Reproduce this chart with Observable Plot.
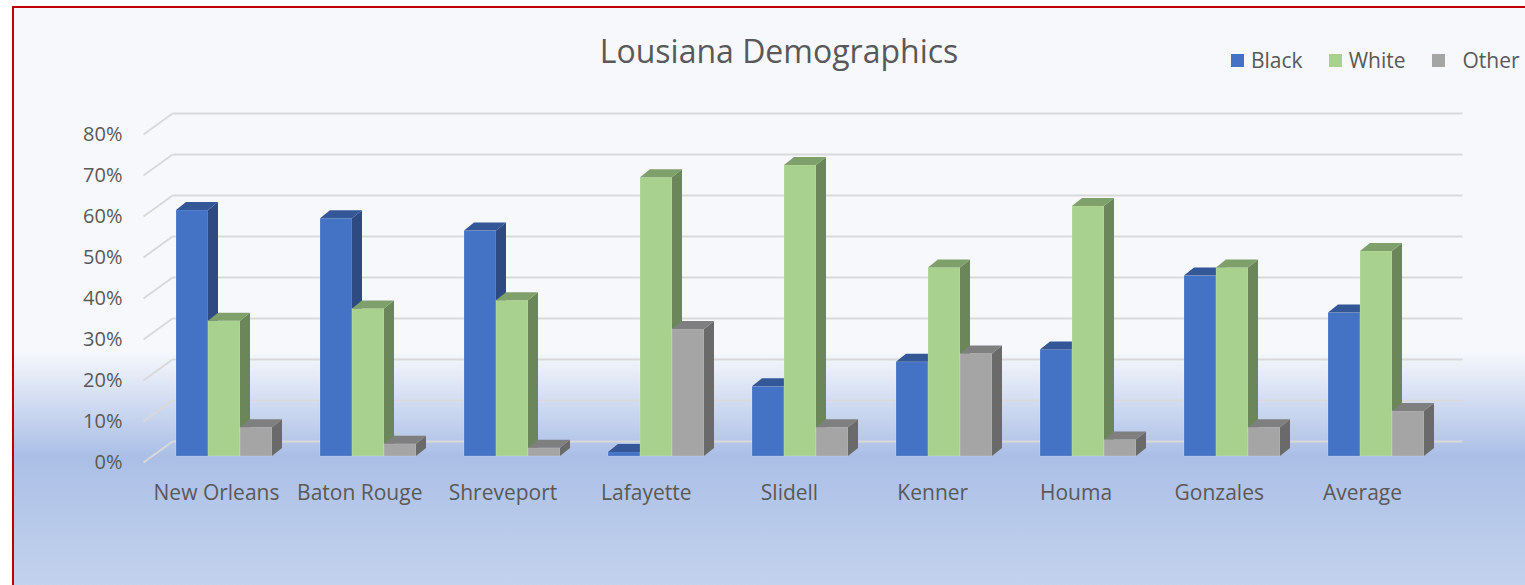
<!DOCTYPE html>
<html>
<head>
<meta charset="utf-8">
<script src="https://cdn.jsdelivr.net/npm/d3@7"></script>
<script src="https://cdn.jsdelivr.net/npm/@observablehq/plot@0.6"></script>
<style>
  html, body { margin: 0; padding: 0; background: #ffffff; }
  #wrap { position: relative; width: 1525px; height: 585px; overflow: hidden; font-family: "Open Sans", "Noto Sans", sans-serif; }
  #frame { position: absolute; left: 12px; top: 6px; width: 1513px; height: 579px; box-sizing: border-box;
    border-top: 2px solid #C00000; border-left: 2px solid #C00000;
    background: linear-gradient(to bottom, #F6F8FC 0%, #F6F8FC 59.5%, #ABBFE6 77.5%, #C3D3EE 100%); }
  #chart { position: absolute; left: 0; top: 0; }
  #title { position: absolute; left: 0; width: 1558px; top: 29px; text-align: center; font-size: 32px; color: #595959; }
  #legend { position: absolute; top: 46px; left: 1231px; font-size: 21px; color: #595959; display: flex; align-items: center; white-space: nowrap; }
  .sw { display: inline-block; width: 13px; height: 13px; margin-right: 7px; }
  .item { display: flex; align-items: center; margin-right: 26px; }
</style>
</head>
<body>
<div id="wrap">
  <div id="frame"></div>
  <div id="chart"></div>
  <div id="title">Lousiana Demographics</div>
  <div id="legend"></div>
</div>
<script>
const categories = ["New Orleans", "Baton Rouge", "Shreveport", "Lafayette", "Slidell", "Kenner", "Houma", "Gonzales", "Average"];
const seriesNames = ["Black", "White", "Other"];
const black = [60, 58, 55, 1, 17, 23, 26, 44, 35];
const white = [33, 36, 38, 68, 71, 46, 61, 46, 50];
const other = [7, 3, 2, 31, 7, 25, 4, 7, 11];
const yTicks = [0, 10, 20, 30, 40, 50, 60, 70, 80];

const seriesValues = [black, white, other];
const frontColors = ["#4472C4", "#A9D18E", "#A5A5A5"];
const sideColors  = ["#2D4B82", "#6B8759", "#6A6A6A"];
const topColors   = ["#335797", "#7F9F6B", "#7F7F7F"];

// scale geometry (px per unit) used to express 3D depth offsets in data units
const PXU = 144, PYU = 4.1;
const barW = 32 / PXU, groupStart = 32 / PXU;
const bdx = 10 / PXU, bdy = 8 / PYU;       // bar depth
const wallX0 = -1 / PXU, wallX1 = 28 / PXU, wallXEnd = 1318 / PXU;
const wallYFront = -6 / PYU, wallYBack = 15 / PYU;
const labelStep = 143.25 / PXU;

const marks = [];
// back wall diagonals and grid
marks.push(Plot.link(yTicks, {x1: () => wallX0, y1: t => t + wallYFront, x2: () => wallX1, y2: t => t + wallYBack, stroke: "#D9D9D9", strokeWidth: 2}));
marks.push(Plot.link(yTicks, {x1: () => wallX1, y1: t => t + wallYBack, x2: () => wallXEnd, y2: t => t + wallYBack, stroke: "#D9D9D9", strokeWidth: 2}));
// y labels
marks.push(Plot.text(yTicks, {x: () => wallX0, y: t => t + wallYFront, text: t => t + "%", textAnchor: "end", dx: -21, fontSize: 20, fill: "#595959"}));
// category labels
marks.push(Plot.text(categories, {x: (d, i) => 0.5 + i * labelStep, y: () => 0, dy: 37, text: d => d, fontSize: 21, fill: "#595959"}));

seriesValues.forEach((vals, j) => {
  const rows = vals.map((v, i) => ({i, v, x1: i + groupStart + j * barW, x2: i + groupStart + (j + 1) * barW}));
  const side = rows.flatMap(r => [
    {id: r.i, x: r.x2, y1: 0, y2: r.v},
    {id: r.i, x: r.x2 + bdx, y1: bdy, y2: r.v + bdy}
  ]);
  const top = rows.flatMap(r => [
    {id: r.i, y: r.v, x1: r.x1, x2: r.x2},
    {id: r.i, y: r.v + bdy, x1: r.x1 + bdx, x2: r.x2 + bdx}
  ]);
  marks.push(Plot.rect(rows, {x1: "x1", x2: "x2", y1: () => 0, y2: "v", fill: frontColors[j], stroke: "#ffffff", strokeOpacity: 0.18, strokeWidth: 1}));
  marks.push(Plot.area(side, {x1: "x", y1: "y1", y2: "y2", z: "id", fill: sideColors[j]}));
  marks.push(Plot.area(top, {y1: "y", x1: "x1", x2: "x2", z: "id", fill: topColors[j]}));
});

const plot = Plot.plot({
  width: 1525,
  height: 585,
  style: {background: "transparent", fontFamily: "'Open Sans', 'Noto Sans', sans-serif"},
  x: {type: "linear", domain: [0, 9], range: [144, 1440], axis: null},
  y: {type: "linear", domain: [0, 80], range: [456, 128], axis: null},
  marks
});
document.getElementById("chart").appendChild(plot);

const legend = document.getElementById("legend");
seriesNames.forEach((name, j) => {
  const it = document.createElement("span");
  it.className = "item";
  const sw = document.createElement("span");
  sw.className = "sw";
  sw.style.background = frontColors[j];
  if (j === 2) sw.style.marginRight = "18px";
  it.appendChild(sw);
  it.appendChild(document.createTextNode(name));
  legend.appendChild(it);
});
</script>
</body>
</html>
